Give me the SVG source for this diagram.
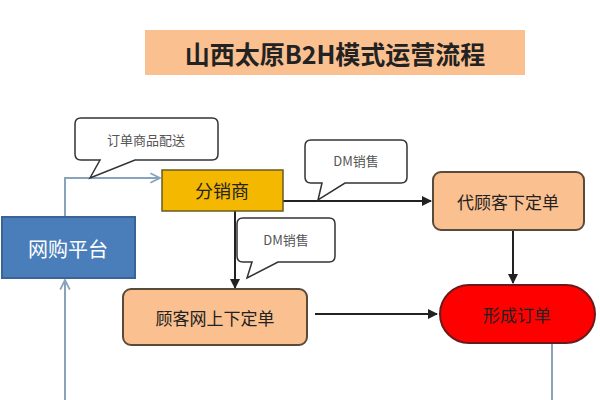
<svg xmlns="http://www.w3.org/2000/svg" width="600" height="400" viewBox="0 0 600 400">
<defs>
<style>
text{font-family:"Noto Sans CJK SC","Liberation Sans",sans-serif;text-anchor:middle;dominant-baseline:central}
.peach{fill:#fac090;stroke:#5a4a3a;stroke-width:2}
.call{fill:#fff;stroke:#333;stroke-width:1.5}
.ct{font-size:13px;fill:#555}
.k{stroke:#222;stroke-width:2;fill:none}
.g{stroke:#8aa3bd;stroke-width:2;fill:none}
</style>
<marker id="a" viewBox="0 0 10 10" refX="9" refY="5" markerWidth="5" markerHeight="5" orient="auto"><path d="M0,0L10,5L0,10z" fill="#222"/></marker>
<marker id="o" viewBox="0 0 10 10" refX="9" refY="5" markerWidth="6" markerHeight="6" orient="auto"><path d="M1,1L9,5L1,9" fill="none" stroke="#8aa3bd" stroke-width="1.5"/></marker>
</defs>
<rect width="600" height="400" fill="#fff"/>
<g id="title"><rect x="145" y="30" width="380" height="45" fill="#fac090"/><text x="335" y="53" font-size="25" font-weight="bold" fill="#222">山西太原B2H模式运营流程</text></g>
<g id="connectors">
<path class="g" d="M65,217V178H160" marker-end="url(#o)"/>
<path class="k" d="M283,201H431" marker-end="url(#a)"/>
<path class="k" d="M235,211V288" marker-end="url(#a)"/>
<path class="k" d="M513,230V283" marker-end="url(#a)"/>
<path class="k" d="M315,314H437" marker-end="url(#a)"/>
<path class="g" d="M552,343V400"/>
<path class="g" d="M65,400V280" marker-end="url(#o)"/>
</g>
<g id="n1"><rect x="2" y="217" width="133" height="61" fill="#4a7ebb" stroke="#3a6498" stroke-width="2"/><text x="68" y="248" font-size="20" fill="#fff">网购平台</text></g>
<g id="n2"><rect x="162" y="170" width="121" height="41" fill="#f5b800" stroke="#6a5a20" stroke-width="1.5"/><text x="222" y="190" font-size="18" fill="#222">分销商</text></g>
<g id="n3"><rect class="peach" x="433" y="172" width="151" height="58" rx="8"/><text x="508" y="201" font-size="17" fill="#222">代顾客下定单</text></g>
<g id="n4"><rect class="peach" x="123" y="289" width="184" height="56" rx="8"/><text x="215" y="317" font-size="17" fill="#222">顾客网上下定单</text></g>
<g id="n5"><rect x="440" y="285" width="155" height="58" rx="29" fill="#f00" stroke="#6a1a1a" stroke-width="2"/><text x="517" y="314" font-size="17" fill="#222">形成订单</text></g>
<g id="c1"><path class="call" d="M81,118H212Q218,118 218,124V154Q218,160 212,160H135L90,178L100,160H81Q75,160 75,154V124Q75,118 81,118Z"/><text class="ct" x="146" y="139">订单商品配送</text></g>
<g id="c2"><path class="call" d="M311,140H401Q407,140 407,146V177Q407,183 401,183H345L318,200L322,183H311Q305,183 305,177V146Q305,140 311,140Z"/><text class="ct" x="356" y="160">DM销售</text></g>
<g id="c3"><path class="call" d="M243,218H329Q335,218 335,224V256Q335,262 329,262H278L247,278L252,262H243Q237,262 237,256V224Q237,218 243,218Z"/><text class="ct" x="286" y="239">DM销售</text></g>
</svg>
